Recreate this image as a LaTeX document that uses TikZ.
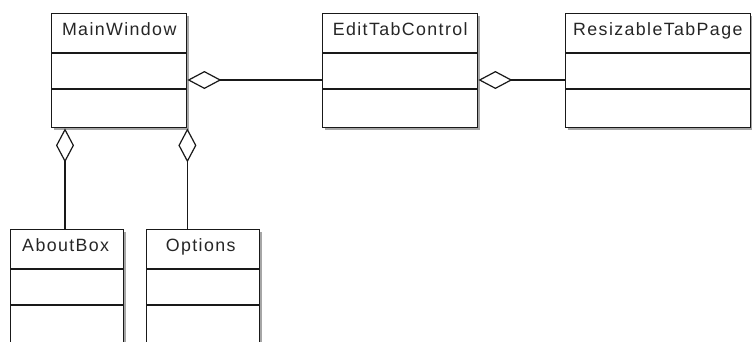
\documentclass[tikz,border=0pt]{standalone}
\usepackage{fontspec}
\setmainfont{Liberation Sans}[LetterSpace=7.8]
\usetikzlibrary{arrows.meta,calc,shadows}
\tikzset{
  cls/.style={draw=black!90, line width=1.4pt, fill=white, anchor=north west,
    inner sep=0pt, drop shadow={shadow xshift=2pt, shadow yshift=-2pt, fill=black!35, opacity=1}},
  clsname/.style={anchor=base, inner sep=0pt, font=\fontsize{17.8}{20}\selectfont, text=black!85},
  sep/.style={draw=black!90, line width=1.4pt},
  agg/.style={draw=black!90, line width=1.4pt,
    {Diamond[open, length=34pt, width=18pt, line width=1.2pt]}-}
}
\begin{document}
\begin{tikzpicture}[x=1pt, y=-1pt]
  \fill[white] (0,0) rectangle (752,341);
  \useasboundingbox (0,0) rectangle (752,341);
  \clip (0,0) rectangle (752,341);

  % class boxes
  \node[cls, minimum width=135pt, minimum height=114pt] (mw) at (51,13) {};
  \node[cls, minimum width=155pt, minimum height=114pt] (etc) at (322,13) {};
  \node[cls, minimum width=185pt, minimum height=114pt] (rtp) at (565,13) {};
  \node[cls, minimum width=113pt, minimum height=130pt] (ab) at (10,229) {};
  \node[cls, minimum width=113pt, minimum height=130pt] (opt) at (146,229) {};

  % compartment dividers
  \foreach \c in {mw,etc,rtp,ab,opt} {
    \draw[sep] ($(\c.north west)+(0,40)$) -- ($(\c.north east)+(0,40)$);
    \draw[sep] ($(\c.north west)+(0,76)$) -- ($(\c.north east)+(0,76)$);
  }

  % class names
  \node[clsname] (mwT) at ($(mw.north)+(0,22)$) {MainWindow};
  \node[clsname] (etcT) at ($(etc.north)+(0,22)$) {EditTabControl};
  \node[clsname, anchor=base west] (rtpT) at ($(rtp.north west)+(8,22)$) {ResizableTabPage};
  \node[clsname] (abT) at ($(ab.north)+(-1.5,22)$) {AboutBox};
  \node[clsname] (optT) at ($(opt.north)+(-2.5,22)$) {Options};

  % aggregations
  \draw[agg] ($(mw.north east)+(0,67)$) -- ($(etc.north west)+(0,67)$);
  \draw[agg] ($(etc.north east)+(0,67)$) -- ($(rtp.north west)+(0,67)$);
  \draw[agg] ($(mw.south west)+(14,0)$) coordinate (mwA) -- (mwA |- ab.north);
  \draw[agg] (mw.south east) -- (mw.south east |- opt.north);
\end{tikzpicture}
\end{document}
